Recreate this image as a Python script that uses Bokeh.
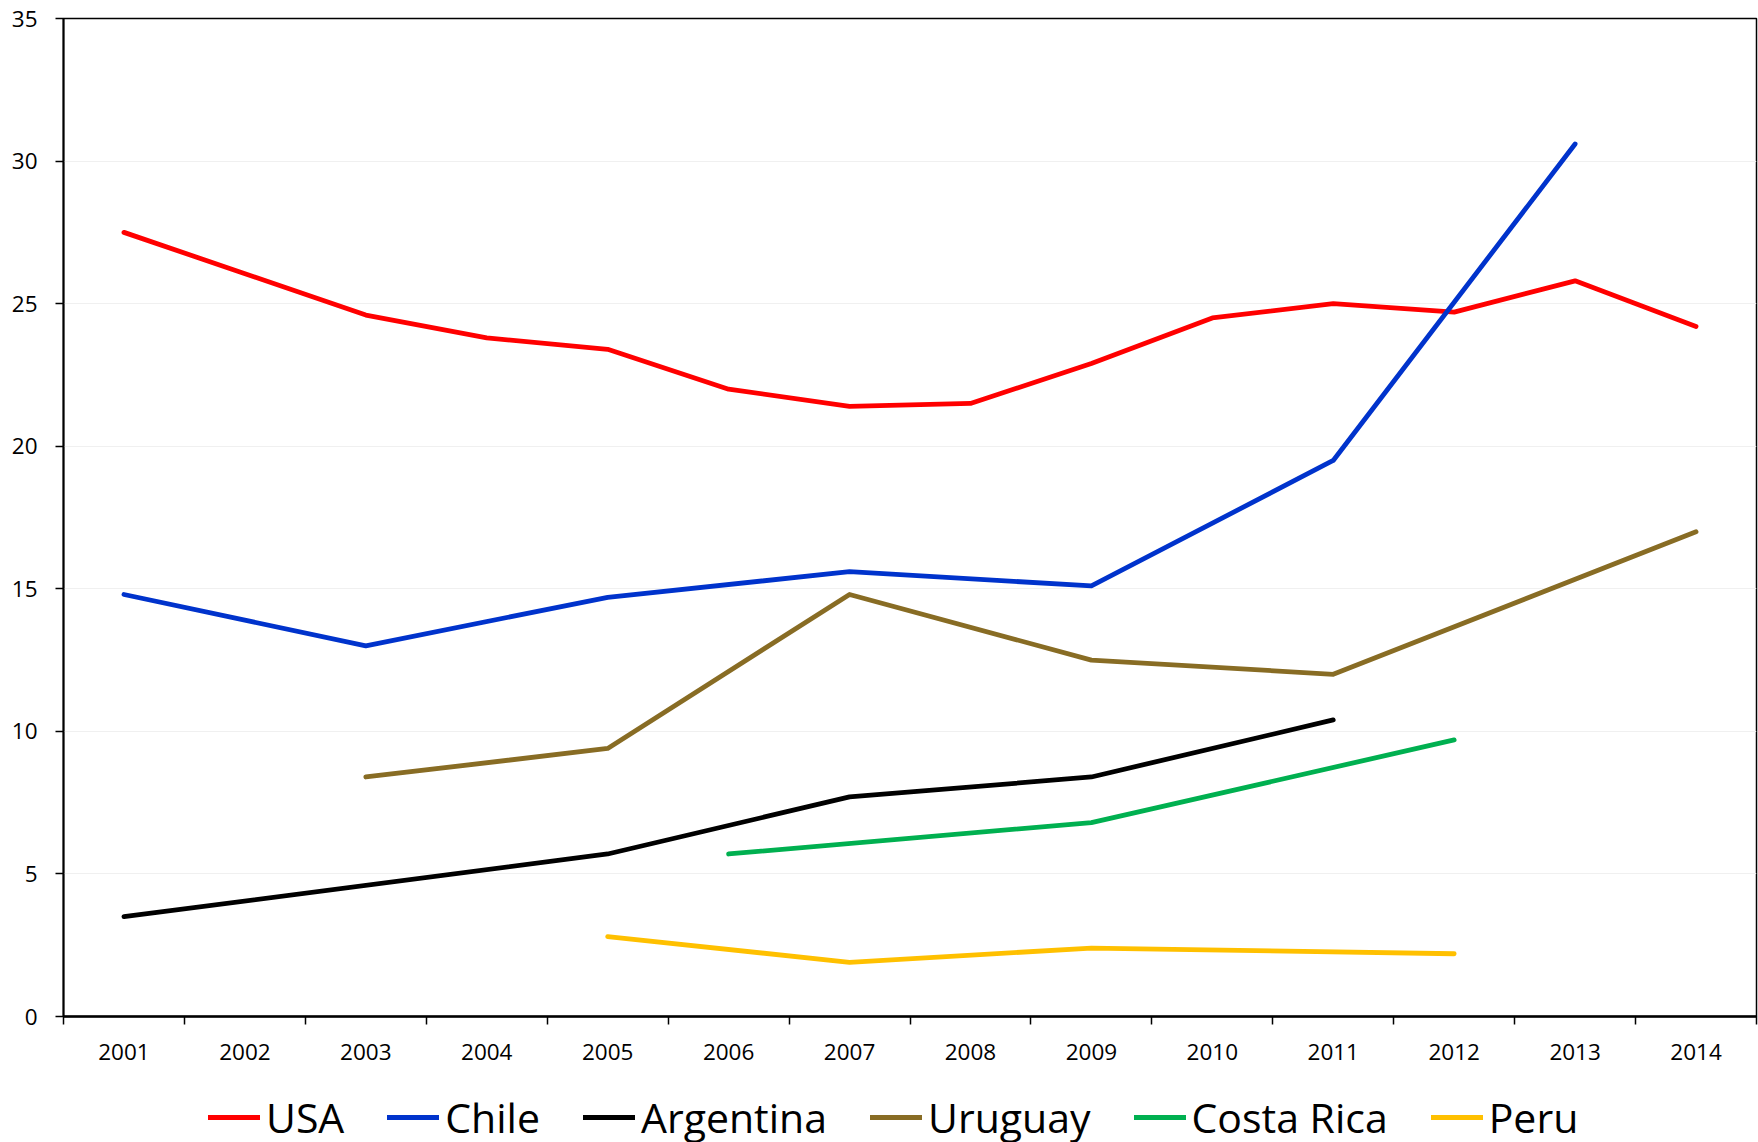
from bokeh.plotting import figure
from bokeh.models import Range1d, FixedTicker, Legend, LegendItem
from bokeh.layouts import column
from bokeh.embed import file_html
from bokeh.resources import INLINE

years = [2001, 2002, 2003, 2004, 2005, 2006, 2007, 2008, 2009, 2010, 2011, 2012, 2013, 2014]
year_labels = [str(y) for y in years]
y_ticks = [0, 5, 10, 15, 20, 25, 30, 35]

countries = ["USA", "Chile", "Argentina", "Uruguay", "Costa Rica", "Peru"]
colors = ["#FF0000", "#0033CC", "#000000", "#886C24", "#00B050", "#FFC000"]

usa = [27.5, None, 24.6, 23.8, 23.4, 22.0, 21.4, 21.5, 22.9, 24.5, 25.0, 24.7, 25.8, 24.2]
chile = [14.8, None, 13.0, None, 14.7, None, 15.6, None, 15.1, None, 19.5, None, 30.6, None]
argentina = [3.5, None, None, None, 5.7, None, 7.7, None, 8.4, None, 10.4, None, None, None]
uruguay = [None, None, 8.4, None, 9.4, None, 14.8, None, 12.5, None, 12.0, None, None, 17.0]
costa_rica = [None, None, None, None, None, 5.7, None, None, 6.8, None, None, 9.7, None, None]
peru = [None, None, None, None, 2.8, None, 1.9, None, 2.4, None, None, 2.2, None, None]

series = [usa, chile, argentina, uruguay, costa_rica, peru]

FONT = "Open Sans"
LW = 4.8

p = figure(width=1758, height=1066, output_backend="svg", toolbar_location=None,
           x_range=Range1d(years[0] - 0.5, years[-1] + 0.5), y_range=Range1d(0, 35),
           min_border_left=63, min_border_right=2, min_border_top=18, min_border_bottom=50)
p.title = None
p.background_fill_color = "white"
p.border_fill_color = "white"
p.outline_line_color = "black"
p.outline_line_width = 1.5

# x axis: labels at category centres, tick marks at category boundaries
p.xaxis.ticker = FixedTicker(ticks=years, minor_ticks=[y - 0.5 for y in years] + [years[-1] + 0.5])
p.xaxis.major_label_overrides = {y: lab for y, lab in zip(years, year_labels)}
p.xaxis.major_tick_out = 0
p.xaxis.major_tick_in = 0
p.xaxis.minor_tick_out = 8
p.xaxis.minor_tick_in = 0
p.xaxis.minor_tick_line_color = "black"
p.xaxis.minor_tick_line_width = 1.5
p.xaxis.axis_line_width = 2.5
p.xaxis.axis_line_color = "black"
p.xaxis.major_label_standoff = 19
p.xaxis.major_label_text_font = FONT
p.xaxis.major_label_text_font_size = "22.5px"
p.xaxis.major_label_text_color = "black"

p.yaxis.ticker = FixedTicker(ticks=y_ticks, minor_ticks=[])
p.yaxis.major_tick_out = 8
p.yaxis.major_tick_in = 0
p.yaxis.major_tick_line_width = 1.5
p.yaxis.major_tick_line_color = "black"
p.yaxis.axis_line_width = 2
p.yaxis.axis_line_color = "black"
p.yaxis.major_label_standoff = 18
p.yaxis.major_label_text_font = FONT
p.yaxis.major_label_text_font_size = "22.5px"
p.yaxis.major_label_text_color = "black"

p.xgrid.grid_line_color = None
p.ygrid.grid_line_color = "#F0F0F0"
p.ygrid.grid_line_width = 1

# legend strip below the chart (same series, drawn out of its visible range)
lp = figure(width=1758, height=76, output_backend="svg", toolbar_location=None,
            x_range=Range1d(years[0] - 0.5, years[-1] + 0.5), y_range=Range1d(1000, 1001),
            x_axis_location=None, y_axis_location=None,
            min_border_left=0, min_border_right=0, min_border_top=0, min_border_bottom=0)
lp.title = None
lp.outline_line_color = None
lp.background_fill_alpha = 0
lp.xgrid.grid_line_color = None
lp.ygrid.grid_line_color = None

items = []
for name, col, vals in zip(countries, colors, series):
    xs = [y for y, v in zip(years, vals) if v is not None]
    ys = [v for v in vals if v is not None]
    p.line(xs, ys, line_color=col, line_width=LW, line_cap="round", line_join="round")
    r = lp.line(xs, ys, line_color=col, line_width=5, line_cap="round")
    items.append(LegendItem(label=name, renderers=[r]))

legend = Legend(items=items, orientation="horizontal", location=(145, -3),
                border_line_color=None, background_fill_alpha=0,
                label_text_font=FONT, label_text_font_size="41px", label_text_color="black",
                glyph_width=52, glyph_height=54, label_height=54, label_standoff=6,
                spacing=43, padding=0, margin=0)
lp.add_layout(legend, "center")

open("out.html", "w").write(file_html(column(p, lp, spacing=0), INLINE))
